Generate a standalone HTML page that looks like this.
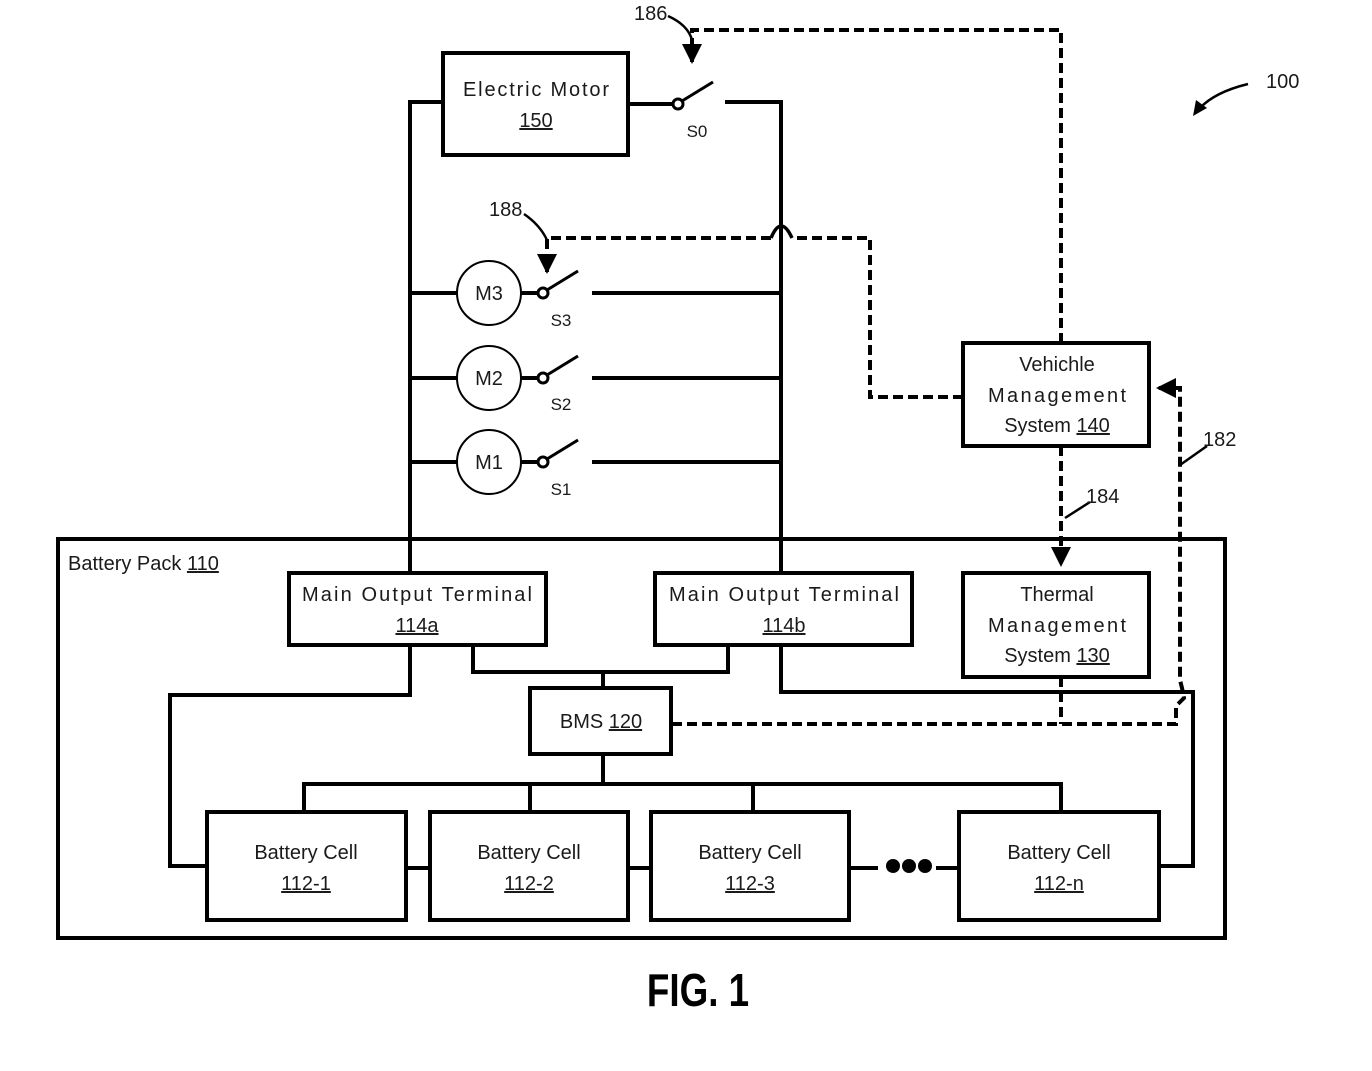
<!DOCTYPE html>
<html><head><meta charset="utf-8"><style>
html,body{margin:0;padding:0;background:#fff;}
svg{display:block;}
text{font-family:"Liberation Sans",sans-serif;fill:#1a1a1a;}
</style></head><body>
<svg width="1372" height="1071" viewBox="0 0 1372 1071" xmlns="http://www.w3.org/2000/svg">
<defs>
<marker id="ah" viewBox="0 0 10 10" refX="9" refY="5" markerWidth="5" markerHeight="5" orient="auto-start-reverse"><path d="M0,0 L10,5 L0,10 z" fill="#000"/></marker>
</defs>
<g fill="none" stroke="#000" stroke-width="4">
<rect x="58" y="539" width="1167" height="399"/>
<rect x="443" y="53" width="185" height="102"/>
<rect x="289" y="573" width="257" height="72"/>
<rect x="655" y="573" width="257" height="72"/>
<rect x="963" y="573" width="186" height="104"/>
<rect x="963" y="343" width="186" height="103"/>
<rect x="530" y="688" width="141" height="66"/>
<rect x="207" y="812" width="199" height="108"/>
<rect x="430" y="812" width="198" height="108"/>
<rect x="651" y="812" width="198" height="108"/>
<rect x="959" y="812" width="200" height="108"/>
<polyline points="443,102 410,102 410,573"/>
<polyline points="410,645 410,695 170,695 170,866 207,866"/>
<polyline points="725,102 781,102 781,573"/>
<polyline points="781,645 781,692 1193,692 1193,866 1159,866"/>
<line x1="628" y1="104" x2="673" y2="104"/>
<line x1="410" y1="293" x2="457" y2="293"/>
<line x1="410" y1="378" x2="457" y2="378"/>
<line x1="410" y1="462" x2="457" y2="462"/>
<line x1="521" y1="293" x2="538" y2="293"/>
<line x1="521" y1="378" x2="538" y2="378"/>
<line x1="521" y1="462" x2="538" y2="462"/>
<line x1="592" y1="293" x2="781" y2="293"/>
<line x1="592" y1="378" x2="781" y2="378"/>
<line x1="592" y1="462" x2="781" y2="462"/>
<polyline points="473,645 473,672 728,672 728,645"/>
<line x1="603" y1="672" x2="603" y2="688"/>
<line x1="603" y1="754" x2="603" y2="784"/>
<polyline points="304,812 304,784 1061,784 1061,812"/>
<line x1="530" y1="784" x2="530" y2="812"/>
<line x1="753" y1="784" x2="753" y2="812"/>
<line x1="406" y1="868" x2="430" y2="868"/>
<line x1="628" y1="868" x2="651" y2="868"/>
<line x1="849" y1="868" x2="878" y2="868"/>
<line x1="936" y1="868" x2="959" y2="868"/>
</g>
<g stroke="#000" stroke-width="2" fill="#fff">
<circle cx="489" cy="293" r="32"/>
<circle cx="489" cy="378" r="32"/>
<circle cx="489" cy="462" r="32"/>
</g>
<g stroke="#000" stroke-width="3" fill="#fff">
<circle cx="678" cy="104" r="5"/>
<circle cx="543" cy="293" r="5"/>
<circle cx="543" cy="378" r="5"/>
<circle cx="543" cy="462" r="5"/>
<line x1="682" y1="101" x2="713" y2="82"/>
<line x1="547" y1="290" x2="578" y2="271"/>
<line x1="547" y1="375" x2="578" y2="356"/>
<line x1="547" y1="459" x2="578" y2="440"/>
</g>
<g fill="#000"><circle cx="893" cy="866" r="7"/><circle cx="909" cy="866" r="7"/><circle cx="925" cy="866" r="7"/></g>
<g fill="none" stroke="#000" stroke-width="4" stroke-dasharray="10,5">
<polyline points="1061,343 1061,30 692,30 692,62" marker-end="url(#ah)"/>
<polyline points="963,397 870,397 870,238 792,238"/>
<path d="M771,238 L547,238 L547,272" marker-end="url(#ah)"/>
<polyline points="1061,446 1061,565" marker-end="url(#ah)"/>
<polyline points="1061,677 1061,724"/>
<polyline points="672,724 1176,724 1176,706 1184,698 1182,688 1180,680 1180,388 1158,388" marker-end="url(#ah)"/>
</g>
<path d="M792,238 Q781,214 771,238" fill="none" stroke="#000" stroke-width="3.5"/>
<g fill="none" stroke="#000" stroke-width="2.5">
<path d="M668,16 Q688,25 692,40"/>
<path d="M524,214 Q540,225 547,240"/>
<path d="M1065,518 L1090,502"/>
<path d="M1180,465 L1207,446"/>
<path d="M1248,84 Q1215,92 1200,108"/>
</g>
<path d="M1193,116 L1196,100 L1207,108 z" fill="#000"/>
<g font-size="20" text-anchor="middle">
<text x="536" y="96" textLength="146" lengthAdjust="spacing">Electric Motor</text>
<text x="536" y="127" text-decoration="underline">150</text>
<text x="417" y="601" textLength="230" lengthAdjust="spacing">Main Output Terminal</text>
<text x="417" y="632" text-decoration="underline">114a</text>
<text x="784" y="601" textLength="230" lengthAdjust="spacing">Main Output Terminal</text>
<text x="784" y="632" text-decoration="underline">114b</text>
<text x="1057" y="601">Thermal</text>
<text x="1057" y="632" textLength="138" lengthAdjust="spacing">Management</text>
<text x="1057" y="662">System <tspan text-decoration="underline">130</tspan></text>
<text x="1057" y="371">Vehichle</text>
<text x="1057" y="402" textLength="138" lengthAdjust="spacing">Management</text>
<text x="1057" y="432">System <tspan text-decoration="underline">140</tspan></text>
<text x="601" y="728">BMS <tspan text-decoration="underline">120</tspan></text>
<text x="306" y="859">Battery Cell</text><text x="306" y="890" text-decoration="underline">112-1</text>
<text x="529" y="859">Battery Cell</text><text x="529" y="890" text-decoration="underline">112-2</text>
<text x="750" y="859">Battery Cell</text><text x="750" y="890" text-decoration="underline">112-3</text>
<text x="1059" y="859">Battery Cell</text><text x="1059" y="890" text-decoration="underline">112-n</text>
<text x="489" y="300">M3</text>
<text x="489" y="385">M2</text>
<text x="489" y="469">M1</text>
</g>
<text x="68" y="570" font-size="20">Battery Pack <tspan text-decoration="underline">110</tspan></text>
<g font-size="17" text-anchor="middle">
<text x="697" y="137">S0</text>
<text x="561" y="326">S3</text>
<text x="561" y="410">S2</text>
<text x="561" y="495">S1</text>
</g>
<g font-size="20">
<text x="634" y="20">186</text>
<text x="489" y="216">188</text>
<text x="1086" y="503">184</text>
<text x="1203" y="446">182</text>
<text x="1266" y="88">100</text>
</g>
<text x="698" y="1006" font-size="46" font-weight="bold" text-anchor="middle" transform="translate(698,0) scale(0.8,1) translate(-698,0)" style="fill:#000">FIG. 1</text>
</svg>
</body></html>
